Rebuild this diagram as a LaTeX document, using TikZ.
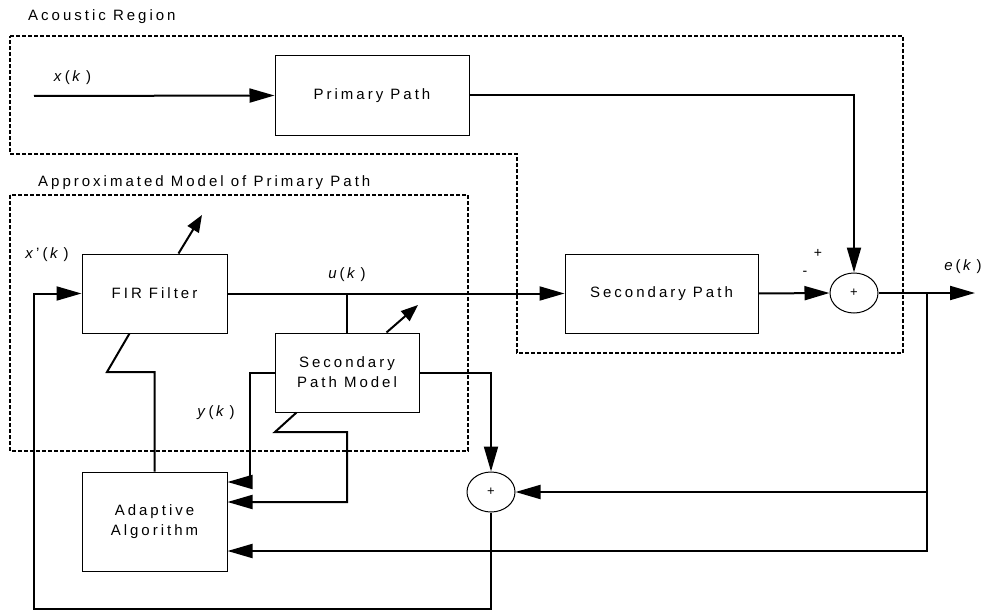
\documentclass[tikz,border=0pt]{standalone}
\usepackage{fontspec}
\setmainfont{Liberation Sans}[LetterSpace=20]
\usetikzlibrary{arrows.meta, positioning, calc, shapes.geometric}
\tikzset{
	pathbox/.style={draw, line width=1pt, align=center, inner sep=0pt, font=\fontsize{15}{20}\selectfont}
}
\tikzset{
	sumnode/.style={draw, ellipse, line width=1pt, minimum width=48pt, minimum height=40pt, inner sep=0pt, font=\fontsize{13}{13}\selectfont}
}
\tikzset{
	labeltext/.style={font=\fontsize{15}{18}\selectfont, inner sep=0pt},
	signtext/.style={font=\fontsize{14}{14}\selectfont, inner sep=0pt},
	sigline/.style={line width=2pt},
	sigarrow/.style={line width=2pt, -{Triangle[length=25pt, width=14pt]}},
	tunearrow/.style={line width=2pt, -{Triangle[length=17pt, width=13pt]}},
	regionline/.style={line width=1.4pt, dash pattern=on 4pt off 2pt}
}
\newcommand{\sig}[1]{\textit{#1}(\,\textit{k}\,)}

\begin{document}
\begin{tikzpicture}[x=1pt, y=-1pt]
  \useasboundingbox (0,0) rectangle (983,610);
  % dashed regions
  \draw[regionline] (10,36) -- (903,36) -- (903,353) -- (517,353) -- (517,154) -- (10,154) -- cycle;
  \draw[regionline] (10,195) rectangle (468,451);
  \node[labeltext, anchor=west] (acl) at (28,17) {Acoustic Region};
  \node[labeltext, anchor=west] (aml) at (38,183) {Approximated Model of Primary Path};
  % blocks
  \node[pathbox, minimum width=194pt, minimum height=79pt] (pp) at (372,95.5) {Primary Path};
  \node[pathbox, minimum width=145pt, minimum height=79pt] (fir) at (154.5,293.5) {FIR Filter};
  \node[pathbox, minimum width=193pt, minimum height=79pt] (sp) at (661.5,293.5) {Secondary Path};
  \node[pathbox, minimum width=144pt, minimum height=79pt] (spm) at (347,372.5) {Secondary\\Path Model};
  \node[pathbox, minimum width=145pt, minimum height=99pt] (aa) at (154.5,521.5) {Adaptive\\Algorithm};
  \node[sumnode] (s1) at (854,293) {+};
  \node[sumnode] (s2) at (491,492) {+};
  % free ends and bends
  \coordinate (xin) at (34,96);
  \coordinate (eout) at (975,293);
  \coordinate (ej) at (927,293);
  \coordinate (uj) at (spm.north |- fir.east);
  \coordinate (xl) at (34,609);
  \coordinate (ya) at (250,482);
  \coordinate (ma) at (347,502);
  \coordinate (ea) at (927,551);
  % signals
  \draw[sigarrow] (xin) -- (pp.west) node[labeltext, pos=0.16, above=10pt] {\sig{x}};
  \draw[sigarrow] (pp.east) -| (s1.north);
  \draw[sigarrow] (fir.east) -- (sp.west);
  \node[labeltext, above=12pt of uj] (ul) {\sig{u}};
  \draw[sigline] (uj) -- (spm.north);
  \draw[sigarrow] (sp.east) -- (s1.west);
  \node[signtext] at (818,253) {+};
  \node[signtext] at (805,273) {-};
  \draw[sigarrow] (s1.east) -- (eout);
  \node[labeltext] (el) at (963,267) {\sig{e}};
  \draw[sigarrow] (ej) |- (s2.east);
  \draw[sigarrow] (ej) -- (ea) -- (ea -| aa.east);
  \draw[sigarrow] (spm.east) -| (s2.north);
  \draw[sigarrow] (s2.south) |- (xl) |- (fir.west);
  \node[labeltext] (xpl) at (47,255) {\textit{x}'(\,\textit{k}\,)};
  \draw[sigarrow] (spm.west) -| (ya) -- (ya -| aa.east);
  \node[labeltext] (yl) at (216,413) {\sig{y}};
  \draw[sigarrow] ($(spm.south west)+(22,0)$) -- (275,432) -| (ma) -- (ma -| aa.east);
  \draw[sigline] (aa.north) |- (107,372) -- ($(fir.south west)+(48,0)$);
  % tuning arrows
  \draw[tunearrow] ($(fir.north west)+(97,0)$) -- (202,215);
  \draw[tunearrow] ($(spm.north west)+(112,0)$) -- (418,305);
\end{tikzpicture}
\end{document}
